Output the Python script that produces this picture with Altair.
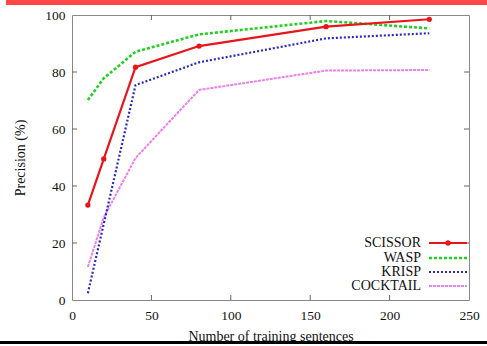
import altair as alt
import pandas as pd

x_scissor = [10, 20, 40, 80, 160, 225]
y_scissor = [33.3, 49.5, 81.7, 89.1, 95.9, 98.5]
x_wasp = [10, 20, 40, 80, 160, 225]
y_wasp = [70.2, 77.8, 87.1, 93.2, 97.9, 95.3]
x_krisp = [10, 40, 80, 160, 225]
y_krisp = [2.4, 75.4, 83.4, 91.8, 93.6]
x_cocktail = [10, 20, 40, 80, 160, 225]
y_cocktail = [11.6, 29.0, 49.8, 73.7, 80.5, 80.7]

series_names = ["SCISSOR", "WASP", "KRISP", "COCKTAIL"]
x_ticks = [0, 50, 100, 150, 200, 250]
y_ticks = [0, 20, 40, 60, 80, 100]

W, H = 397, 285
FONT = "Liberation Serif"

xs = alt.Scale(domain=[0, 250], nice=False)
ys = alt.Scale(domain=[0, 100], nice=False)

def df(xv, yv, name):
    return pd.DataFrame({"x": xv, "y": yv, "s": name})

d_sc = df(x_scissor, y_scissor, "SCISSOR")
d_wa = df(x_wasp, y_wasp, "WASP")
d_kr = df(x_krisp, y_krisp, "KRISP")
d_co = df(x_cocktail, y_cocktail, "COCKTAIL")

xaxis = alt.Axis(values=x_ticks, tickSize=0, domain=False, grid=False,
                 labelPadding=8, labelFontSize=13.5, labelFont=FONT, labelColor="#111",
                 title="Number of training sentences", titleFont=FONT, titleFontSize=14,
                 titleFontWeight="normal", titleColor="#111", titlePadding=8,
                 labelFlush=False)
yaxis = alt.Axis(values=y_ticks, tickSize=0, domain=False, grid=False,
                 labelPadding=7, labelFontSize=13.5, labelFont=FONT, labelColor="#111",
                 title="Precision (%)", titleFont=FONT, titleFontSize=14,
                 titleFontWeight="normal", titleColor="#111", titlePadding=17)

def line(d, color, width, dash=None, first=False):
    kw = dict(color=color, strokeWidth=width)
    if dash:
        kw["strokeDash"] = dash
    m = alt.Chart(d).mark_line(**kw)
    if first:
        return m.encode(x=alt.X("x:Q", scale=xs, axis=xaxis),
                        y=alt.Y("y:Q", scale=ys, axis=yaxis))
    return m.encode(x=alt.X("x:Q", scale=xs), y=alt.Y("y:Q", scale=ys))

RED, GREEN, BLUE, PINK = "#e8161a", "#22d022", "#2a2ac0", "#ec80ec"

l_co = line(d_co, PINK, 2.0, [3, 1], first=True)
l_kr = line(d_kr, BLUE, 2.2, [2, 2])
l_wa = line(d_wa, GREEN, 2.6, [3, 2])
l_sc = line(d_sc, RED, 2.2)
p_sc = alt.Chart(d_sc).mark_circle(color=RED, size=28, opacity=1).encode(
    x=alt.X("x:Q", scale=xs), y=alt.Y("y:Q", scale=ys))

# inward ticks on all four sides
tx = pd.DataFrame({"x": x_ticks[1:-1]})
ty = pd.DataFrame({"y": y_ticks[1:-1]})
tk = "#666"
t_bot = alt.Chart(tx).mark_rule(color=tk, strokeWidth=1).encode(
    x=alt.X("x:Q", scale=xs), y=alt.value(H), y2=alt.value(H - 5))
t_top = alt.Chart(tx).mark_rule(color=tk, strokeWidth=1).encode(
    x=alt.X("x:Q", scale=xs), y=alt.value(0), y2=alt.value(5))
t_left = alt.Chart(ty).mark_rule(color=tk, strokeWidth=1).encode(
    y=alt.Y("y:Q", scale=ys), x=alt.value(0), x2=alt.value(5))
t_right = alt.Chart(ty).mark_rule(color=tk, strokeWidth=1).encode(
    y=alt.Y("y:Q", scale=ys), x=alt.value(W), x2=alt.value(W - 5))

# legend
legend_layers = []
leg_y = [228, 243, 257, 271]
styles = [(RED, 2.2, None), (GREEN, 2.6, [3, 2]), (BLUE, 2.2, [2, 2]), (PINK, 2.0, [3, 1])]
for name, yy, (c, w, dash) in zip(series_names, leg_y, styles):
    ld = pd.DataFrame({"s": [name]})
    legend_layers.append(
        alt.Chart(ld).mark_text(align="right", baseline="middle", font=FONT,
                                fontSize=14, color="#111").encode(
            text="s:N", x=alt.value(349), y=alt.value(yy)))
    kw = dict(color=c, strokeWidth=w)
    if dash:
        kw["strokeDash"] = dash
    legend_layers.append(
        alt.Chart(ld).mark_rule(**kw).encode(
            x=alt.value(357), x2=alt.value(395), y=alt.value(yy)))
legend_layers.append(
    alt.Chart(pd.DataFrame({"s": ["SCISSOR"]})).mark_circle(color=RED, size=28, opacity=1).encode(
        x=alt.value(376), y=alt.value(leg_y[0])))

# decorative bars
top_bar = alt.Chart(pd.DataFrame({"a": [0]})).mark_rect(color="#ff4747").encode(
    x=alt.value(-66), x2=alt.value(415), y=alt.value(-15), y2=alt.value(-10))
bot_bar = alt.Chart(pd.DataFrame({"a": [0]})).mark_rect(color="#000000").encode(
    x=alt.value(-72), x2=alt.value(415), y=alt.value(326), y2=alt.value(329))

chart = alt.layer(
    l_co, l_kr, l_wa, l_sc, p_sc, t_bot, t_top, t_left, t_right,
    *legend_layers, top_bar, bot_bar
).properties(
    width=W, height=H,
    padding={"left": 72, "top": 15, "right": 18, "bottom": 46},
    autosize=alt.AutoSizeParams(type="none"),
    background="white",
).configure_view(stroke="#888888", strokeWidth=1)

chart.save("out.html", embed_options={"renderer": "svg", "actions": False})
